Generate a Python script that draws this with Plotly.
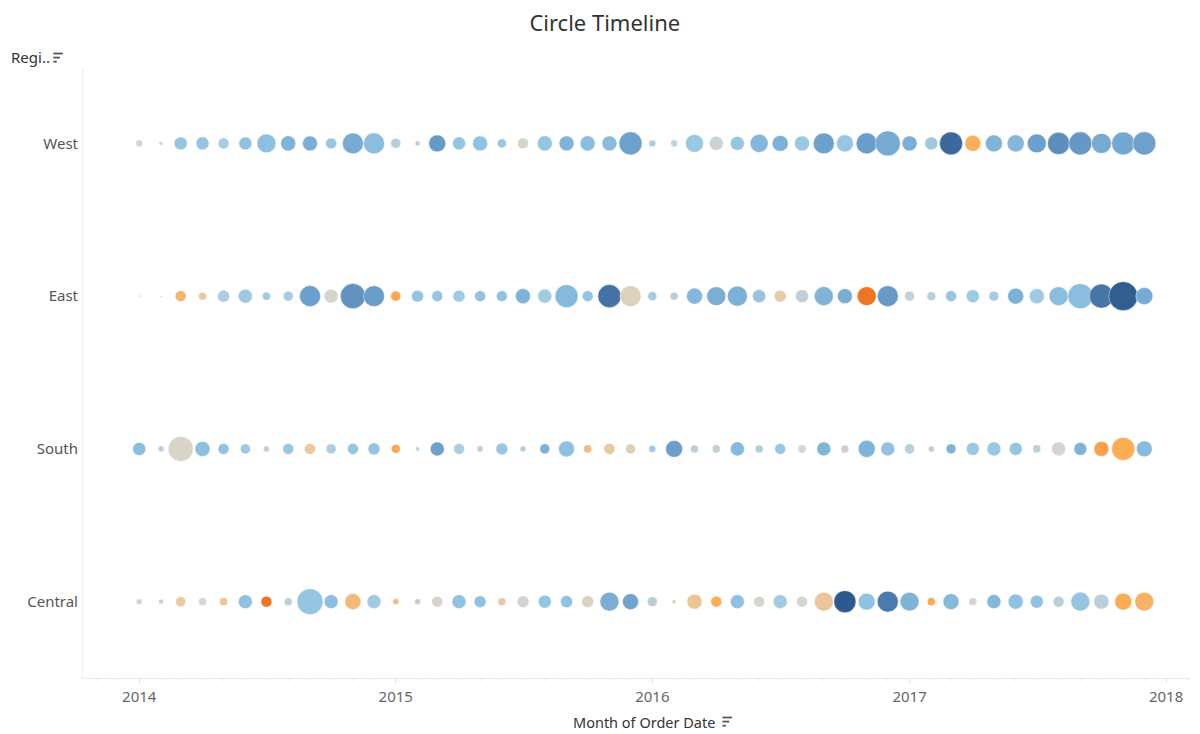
import plotly.graph_objects as go

# ---------------- data ----------------
months = [f"{y}-{m:02d}-01" for y in range(2014, 2018) for m in range(1, 13)]
regions = ["West", "East", "South", "Central"]

west_sales = [2430, 790, 8380, 8520, 6080, 8410, 17960, 11310, 11190, 6020, 21980, 22140,
              4970, 1260, 14380, 8470, 11230, 4060, 6030, 11280, 11210, 11340, 11170, 26510,
              2440, 2470, 16150, 9830, 9760, 16240, 12770, 11260, 22010, 14490, 22090, 31180,
              11220, 8430, 26390, 12830, 14420, 14470, 18010, 24250, 26480, 19960, 26410, 26530]
west_profit = [-200, 100, 2000, 2000, 1200, 2200, 2400, 3000, 3300, 1800, 3500, 2500,
               700, 400, 4500, 2000, 2300, 1800, -200, 2000, 3000, 2500, 2600, 4200,
               900, 300, 1800, 200, 2000, 2800, 3200, 1800, 4200, 1900, 4400, 3600,
               3300, 1700, 6800, -2500, 3000, 2800, 4300, 5000, 4600, 3600, 3700, 4200]

east_sales = [210, 190, 6040, 3180, 7230, 9790, 3220, 4980, 22080, 9810, 31300, 21990,
              5030, 7180, 6070, 7210, 6040, 6010, 11270, 9840, 26420, 6060, 26500, 22030,
              4070, 3190, 12820, 18030, 20040, 8480, 7190, 8420, 18080, 11230, 18020, 22060,
              5010, 4040, 6080, 8460, 4990, 12790, 11240, 18060, 31220, 28830, 42010, 14480]
east_profit = [0, -50, -2200, -1200, 1000, 1700, 1500, 1300, 4300, -100, 4800, 4400,
               -2800, 2100, 2000, 1700, 2200, 2200, 3000, 1500, 2700, 2000, 6200, -500,
               1500, 800, 2800, 3300, 3200, 2000, -1000, 400, 3000, 3400, -4500, 4500,
               300, 500, 1900, 1700, 1200, 3200, 1700, 2500, 2500, 6000, 7500, 3500]

south_sales = [8440, 1810, 31270, 11240, 6030, 4990, 1790, 6060, 6020, 5010, 6070, 7220,
               4030, 810, 9790, 6050, 1820, 7190, 1780, 5020, 12810, 3210, 6040, 4980,
               2460, 14410, 3190, 3220, 9820, 3180, 6010, 3230, 9780, 3200, 14470, 9810,
               5040, 1800, 4960, 8430, 9790, 8460, 3210, 9830, 8420, 11260, 26440, 12780]
south_profit = [2600, 400, -200, 2400, 2200, 1700, 500, 1900, -1300, 1000, 2000, 2100,
                -2800, 400, 4200, 1000, 500, 1800, 700, 3000, 2300, -1800, -1300, -600,
                1600, 4300, 500, 400, 2700, 900, 1800, -50, 2900, 300, 3000, 2200,
                600, 500, 3000, 1800, 1800, 2000, 500, 50, 3000, -3000, -2600, 2600]

central_sales = [1790, 1240, 5010, 3190, 3220, 9810, 6040, 3200, 33780, 9790, 12820, 9830,
                 1810, 1790, 6060, 9800, 7210, 3180, 7190, 8460, 7230, 7170, 18040, 12790,
                 4990, 810, 11230, 6050, 9820, 6030, 9780, 6070, 18060, 24180, 14430, 22070,
                 18020, 3210, 12810, 3190, 9840, 11270, 8440, 6040, 18070, 11220, 14460, 18030]
central_profit = [-100, 300, -1300, 0, -1500, 2300, -4500, 500, 2000, 2400, -2000, 1500,
                  -1800, 400, -200, 2200, 2300, -1300, 100, 2000, 2300, -300, 3300, 4000,
                  500, -600, -1500, -2600, 2300, 0, 1500, 0, -1400, 7800, 2200, 5800,
                  3000, -2600, 2700, -50, 2800, 2300, 2200, 500, 2000, 600, -2600, -2300]

year_ticks = ["2014-01-01", "2015-01-01", "2016-01-01", "2017-01-01", "2018-01-01"]
year_labels = ["2014", "2015", "2016", "2017", "2018"]

sales_by_region = {"West": west_sales, "East": east_sales, "South": south_sales, "Central": central_sales}
profit_by_region = {"West": west_profit, "East": east_profit, "South": south_profit, "Central": central_profit}

# ---------------- styling ----------------
PMIN, PMAX = -8000, 8000
stops = [(-8000, "#c9570e"), (-4500, "#ee7623"), (-2600, "#fcac55"), (-1300, "#eac8a0"),
         (-200, "#d8d4c7"), (0, "#d5d6cf"), (500, "#bccfd8"), (1500, "#a1cbe3"),
         (2300, "#8fc1e1"), (3000, "#7fb3d8"), (4300, "#6c9fcb"), (6000, "#4676a8"),
         (8000, "#2a5689")]
colorscale = [[(v - PMIN) / (PMAX - PMIN), c] for v, c in stops]

FONT = "Noto Sans"
W, H = 1200, 734
L, R, T, B = 83, 10, 67, 56
PW, PH = W - L - R, H - T - B


def px_x(px):
    return (px - L) / PW


def px_y(py):
    return (H - B - py) / PH


fig = go.Figure()
for reg in regions:
    fig.add_trace(go.Scatter(
        x=months,
        y=[reg] * len(months),
        mode="markers",
        marker=dict(
            size=sales_by_region[reg],
            sizemode="area",
            sizeref=100,
            color=profit_by_region[reg],
            colorscale=colorscale,
            cmin=PMIN, cmax=PMAX,
            showscale=False,
            opacity=1,
            line=dict(width=0.8, color="rgba(255,255,255,0.55)"),
        ),
        name=reg,
        showlegend=False,
        hovertemplate="%{y}<br>%{x|%B %Y}<br>Sales: %{marker.size}<br>Profit: %{marker.color}<extra></extra>",
    ))

shapes = []
# sort icons (three bars of decreasing length)
def sort_icon(x0, ytop):
    out = []
    for i, ln in enumerate([9.5, 6.7, 3.4]):
        yy = ytop + i * 4.1
        out.append(dict(type="line", xref="paper", yref="paper",
                        x0=px_x(x0), x1=px_x(x0 + ln), y0=px_y(yy), y1=px_y(yy),
                        line=dict(color="#555555", width=1.8)))
    return out

shapes += sort_icon(53.3, 53.5)
shapes += sort_icon(722.5, 717.5)

fig.update_layout(
    width=W, height=H,
    margin=dict(l=L, r=R, t=T, b=B),
    paper_bgcolor="white", plot_bgcolor="white",
    font=dict(family=FONT, color="#555555"),
    title=dict(text="Circle Timeline", x=0.504, xanchor="center", y=1 - 23 / H, yanchor="middle",
               font=dict(family=FONT, size=22, color="#333333")),
    xaxis=dict(
        type="date",
        range=["2013-10-13", "2018-02-04"],
        tickvals=year_ticks, ticktext=year_labels,
        showgrid=False, zeroline=False,
        showline=True, linecolor="#e9e9e9", linewidth=1,
        ticks="outside", ticklen=4, tickcolor="#dddddd", tickwidth=1,
        tickfont=dict(family=FONT, size=15, color="#666666"),
        minor=dict(dtick="M1", tick0="2014-01-01", ticks="outside", ticklen=2,
                   tickcolor="#e6e6e6", showgrid=False),
        ticklabelstandoff=1,
        fixedrange=True,
    ),
    yaxis=dict(
        type="category",
        categoryorder="array", categoryarray=regions[::-1],
        range=[-0.5, 3.5],
        showgrid=False, zeroline=False,
        showline=True, linecolor="#eeeeee", linewidth=1,
        ticks="", ticklabelstandoff=1,
        tickfont=dict(family=FONT, size=15, color="#555555"),
        fixedrange=True,
    ),
    shapes=shapes,
    annotations=[
        dict(text="Regi..", xref="paper", yref="paper", x=px_x(9), y=px_y(57),
             xanchor="left", yanchor="middle", showarrow=False,
             font=dict(family=FONT, size=15, color="#333333")),
        dict(text="Month of Order Date", xref="paper", yref="paper", x=px_x(717), y=px_y(722),
             xanchor="right", yanchor="middle", showarrow=False,
             font=dict(family=FONT, size=14.5, color="#333333")),
    ],
)

fig.write_html("out.html", config={"displayModeBar": False},
               post_script="document.body.style.margin='0';document.body.style.overflow='hidden';")
